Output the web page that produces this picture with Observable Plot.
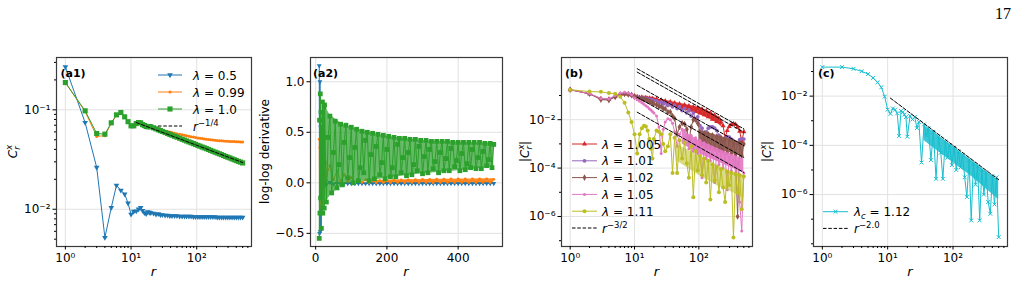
<!DOCTYPE html>
<html><head><meta charset="utf-8">
<script src="https://cdn.jsdelivr.net/npm/d3@7"></script>
<script src="https://cdn.jsdelivr.net/npm/@observablehq/plot@0.6"></script>
<style>
body{margin:0;background:#fff;}
#page{position:relative;width:1020px;height:307px;overflow:hidden;font-family:"DejaVu Sans",sans-serif;background:#fff;}
#page svg{position:absolute;left:0;top:0;}
</style></head><body><div id="page"></div>
<script>
// ---------------- DATA ----------------
const rGrid = [1,2,3,4,5,6,7,8,9,10,11,12,13,14,15,16,17,18,19,20,22,24,26,28,30,33,36,39,42,46,50,55,60,65,70,76,82,89,96,104,112,121,130,140,151,163,176,190,205,221,238,256,276,297,320,345,372,400,431,464,500];

// (a1) C_r^x
const a1Blue = [0.271,0.0744,0.0263,0.00519,0.0104,0.0174,0.0155,0.0142,0.0115,0.0089,
 0.0095,0.0096,0.0100,0.0104,0.0097,0.0092,0.0090,0.0094,0.0093,0.0092,
 0.0091,0.0089,0.0090,0.0088,0.0088,0.0087,0.0087,0.0086,0.0086,0.0086,
 0.0086,0.0085,0.0085,0.0085,0.0085,0.0085,0.0085,0.0084,0.0084,0.0084,
 0.0084,0.0084,0.0084,0.0084,0.0084,0.0084,0.0084,0.0084,0.0083,0.0083,
 0.0083,0.0083,0.0083,0.0083,0.0083,0.0083,0.0083,0.0083,0.0083,0.0083,0.0083];
const a1Orange = [0.188,0.096,0.054,0.055,0.073,0.088,0.093,0.084,0.076,0.069,
 0.068,0.072,0.074,0.073,0.070,0.069,0.068,0.067,0.068,0.067,
 0.0662,0.0650,0.0641,0.0632,0.0624,0.0614,0.0605,0.0597,0.0590,0.0582,
 0.0575,0.0567,0.0560,0.0554,0.0548,0.0542,0.0537,0.0532,0.0527,0.0522,
 0.0518,0.0514,0.0510,0.0507,0.0503,0.0500,0.0497,0.0495,0.0492,0.0490,
 0.0488,0.0486,0.0484,0.0483,0.0481,0.0480,0.0479,0.0478,0.0477,0.0476,0.0475];
const a1Green = [0.188,0.0977,0.0578,0.0569,0.074,0.089,0.094,0.085,0.076,0.069,
 0.069,0.0728,0.0745,0.074,0.071,0.0695,0.068,0.0675,0.068,0.0675,
 0.0659,0.0644,0.0630,0.0618,0.0606,0.0591,0.0578,0.0566,0.0555,0.0542,
 0.0531,0.0518,0.0506,0.0496,0.0486,0.0476,0.0467,0.0457,0.0448,0.0439,
 0.0431,0.0422,0.0415,0.0407,0.0399,0.0391,0.0383,0.0375,0.0368,0.0361,
 0.0354,0.0347,0.0340,0.0334,0.0328,0.0321,0.0315,0.0309,0.0303,0.0298,0.0292];
const a1DashR = [12, 500];
const a1DashV = [0.0745, 0.0295];
const a1Lambdas = ["0.5", "0.99", "1.0"];

// (a2) log-log derivative
const a2GreenR = [10,11,12,13,14,15,16,17,18,19,20,21,22,23,24,
 25,30,35,40,45,50,55,60,65,70,
 75,80,85,90,95,100,105,110,115,120,
 125,130,135,140,145,150,155,160,165,170,
 175,180,185,190,195,200,205,210,215,220,
 225,230,235,240,245,250,255,260,265,270,
 275,280,285,290,295,300,305,310,315,320,
 325,330,335,340,345,350,355,360,365,370,
 375,380,385,390,395,400,405,410,415,420,
 425,430,435,440,445,450,455,460,465,470,
 475,480,485,490,495,500];
const a2Green = [-0.55,0.62,-0.30,0.88,-0.15,0.70,-0.45,0.55,0.10,0.80,-0.30,0.45,0.20,0.75,-0.25,
 0.77,-0.19,0.45,0.66,-0.10,0.30,0.61,-0.05,0.18,0.58,
 -0.02,0.40,0.57,0.05,0.25,0.55,0.00,0.35,0.53,0.02,
 0.15,0.51,0.10,0.42,0.50,0.02,0.28,0.49,0.04,0.36,
 0.48,0.08,0.20,0.47,0.04,0.33,0.46,0.06,0.15,0.45,
 0.06,0.38,0.44,0.10,0.25,0.44,0.07,0.30,0.43,0.08,
 0.18,0.43,0.12,0.36,0.42,0.09,0.26,0.42,0.10,0.33,
 0.41,0.14,0.21,0.41,0.10,0.30,0.41,0.12,0.24,0.41,
 0.12,0.34,0.40,0.16,0.22,0.40,0.12,0.29,0.40,0.13,
 0.19,0.40,0.15,0.33,0.40,0.14,0.25,0.40,0.14,0.31,
 0.39,0.17,0.23,0.39,0.15,0.38];
// envelope of the densely oscillating green points (every integer r in the original)
const a2GreenEnvR = [20, 25, 40, 75, 100, 150, 200, 250, 300, 400, 500];
const a2GreenEnvHi = [0.80, 0.77, 0.67, 0.58, 0.55, 0.50, 0.46, 0.44, 0.42, 0.405, 0.395];
const a2GreenEnvLo = [-0.28, -0.22, -0.13, -0.02, 0.00, 0.02, 0.045, 0.07, 0.09, 0.12, 0.155];
const a2BOR = [10,11,12,13,14,15,16,17,18,19,20,21,22,23,24,26,28,30,
 40,50,60,70,80,90,100,110,120,130,140,150,160,170,180,190,200,210,220,230,240,250,
 260,270,280,290,300,310,320,330,340,350,360,370,380,390,400,410,420,430,440,450,460,470,480,490,500];
const a2Blue = [1.16,-0.50,1.00,-0.48,0.55,-0.20,0.35,-0.10,0.20,-0.05,0.12,0.00,0.06,-0.03,0.04,
 -0.02,0.02,-0.015,
 0.004,-0.010,-0.004,-0.008,-0.005,-0.007,-0.006,-0.007,-0.006,-0.006,
 -0.007,-0.006,-0.006,-0.007,-0.006,-0.006,-0.006,-0.007,-0.006,-0.006,
 -0.006,-0.006,-0.007,-0.006,-0.006,-0.006,-0.006,-0.006,-0.007,-0.006,
 -0.006,-0.006,-0.006,-0.006,-0.006,-0.006,-0.006,-0.006,-0.006,-0.006,
 -0.006,-0.006,-0.006,-0.006,-0.006,-0.006,-0.006];
const a2Orange = [0.43,-0.30,0.35,-0.22,0.48,-0.12,0.30,-0.25,0.27,0.00,0.25,-0.06,0.21,0.02,0.22,
 0.04,0.20,0.07,
 0.17,0.03,0.12,0.02,0.08,0.01,0.05,0.00,0.035,0.004,
 0.028,0.002,0.024,0.001,0.022,0.002,0.024,0.001,0.026,0.002,
 0.028,0.001,0.030,0.002,0.032,0.001,0.034,0.002,0.035,0.001,
 0.036,0.002,0.037,0.002,0.038,0.002,0.038,0.003,0.039,0.003,
 0.039,0.003,0.040,0.003,0.040,0.003,0.035];
const a2OrangeEnvR = [150, 250, 350, 500];
const a2OrangeEnvHi = [0.022, 0.03, 0.036, 0.040];
const a2OrangeEnvLo = [0.0, 0.0, 0.0, 0.0];

// (b) |C_r^x|, stored as log10 values
const bLogRed = [-0.76,-0.93,-1.13,-1.15,-1.04,-0.96,-0.93,-0.94,-0.97,-1.02,
 -1.05,-1.08,-1.07,-1.10,-1.09,-1.12,-1.11,-1.14,-1.13,-1.16,
 -1.15,-1.25,-1.19,-1.30,-1.23,-1.35,-1.27,-1.40,-1.31,-1.45,
 -1.35,-1.50,-1.39,-1.55,-1.43,-1.60,-1.47,-1.65,-1.51,-1.72,
 -1.57,-1.80,-1.64,-1.88,-1.72,-1.98,-1.82,-2.08,-1.95,-2.10,
 -2.25,-2.75,-2.45,-2.28,-2.20,-2.17,-2.20,-2.30,-2.48,-2.90,-2.50];
const bLogPurple = [-0.76,-0.93,-1.14,-1.16,-1.05,-0.96,-0.93,-0.95,-0.98,-1.03,
 -1.06,-1.09,-1.09,-1.12,-1.12,-1.15,-1.15,-1.18,-1.18,-1.21,
 -1.22,-1.30,-1.26,-1.35,-1.30,-1.41,-1.35,-1.47,-1.40,-1.54,
 -1.46,-1.62,-1.53,-1.72,-1.61,-1.85,-1.72,-2.00,-1.88,-2.25,
 -2.35,-2.90,-2.50,-2.35,-2.30,-2.30,-2.35,-2.45,-2.65,-3.20,
 -2.90,-2.75,-2.70,-2.72,-2.80,-3.00,-3.40,-3.00,-2.82,-2.78,-2.80];
const bLogBrown = [-0.76,-0.93,-1.17,-1.19,-1.06,-0.97,-0.94,-0.96,-0.99,-1.05,
 -1.08,-1.12,-1.13,-1.17,-1.18,-1.22,-1.24,-1.28,-1.30,-1.34,
 -1.38,-1.45,-1.45,-1.55,-1.55,-1.68,-1.68,-1.85,-1.95,-2.60,
 -2.30,-2.15,-2.18,-2.40,-2.90,-2.30,-2.00,-2.00,-2.15,-2.50,
 -3.00,-2.55,-3.10,-2.60,-3.15,-2.65,-3.20,-2.70,-3.25,-2.75,
 -3.30,-2.80,-3.35,-2.85,-3.40,-2.90,-3.45,-6.00,-2.95,-3.50,-3.00];
const bLogPink = [-0.76,-0.92,-1.12,-1.14,-1.00,-0.90,-0.87,-0.90,-0.97,-1.10,
 -1.18,-1.24,-1.30,-1.36,-1.42,-1.48,-1.55,-1.60,-1.66,-1.72,
 -1.85,-2.30,-3.40,-2.40,-2.10,-1.96,-2.00,-2.15,-2.50,-3.10,
 -2.60,-2.40,-2.45,-2.70,-3.20,-2.65,-3.30,-2.75,-3.40,-2.85,
 -4.40,-2.95,-3.60,-3.05,-3.70,-3.15,-4.60,-3.25,-3.85,-3.35,
 -4.00,-3.45,-4.90,-3.55,-4.10,-3.65,-4.20,-3.75,-5.40,-6.60,-4.20];
const bLogOlive = [-0.76,-0.84,-0.85,-0.90,-0.93,-1.05,-1.30,-1.70,-2.10,-2.60,
 -3.40,-2.60,-2.35,-2.25,-2.28,-2.45,-2.80,-3.20,-3.60,-2.80,
 -2.45,-2.50,-2.60,-3.00,-3.30,-3.10,-2.60,-4.20,-2.75,-4.20,
 -2.85,-3.60,-2.95,-3.80,-4.40,-3.10,-5.20,-3.30,-4.10,-3.50,
 -4.30,-3.60,-4.60,-3.70,-5.30,-3.85,-4.50,-3.95,-5.00,-4.05,
 -4.80,-5.40,-4.15,-4.70,-4.20,-6.87,-4.25,-5.00,-4.30,-5.70,-4.35];
// envelopes (log10) of the dense even/odd bands in (b)
const bRedEnvR = [13, 20, 30, 50, 100, 150, 200, 228];
const bRedEnvHi = [-1.07, -1.12, -1.20, -1.32, -1.49, -1.68, -1.88, -2.00];
const bRedEnvLo = [-1.10, -1.20, -1.33, -1.52, -1.78, -1.98, -2.18, -2.30];
const bBrownEnvR = [100, 150, 200, 300, 500];
const bBrownEnvHi = [-2.42, -2.56, -2.66, -2.80, -2.95];
const bBrownEnvLo = [-2.95, -3.12, -3.22, -3.36, -3.55];
const bPinkEnvR = [55, 100, 200, 300, 500];
const bPinkEnvHi = [-2.45, -2.85, -3.20, -3.40, -3.62];
const bPinkEnvLo = [-3.00, -3.40, -3.75, -3.95, -4.20];
const bOliveEnvR = [45, 100, 200, 300, 500];
const bOliveEnvHi = [-3.00, -3.50, -3.90, -4.10, -4.30];
const bOliveEnvLo = [-3.70, -4.30, -4.75, -4.95, -5.25];
const bLambdas = ["1.005", "1.01", "1.02", "1.05", "1.11"];
const bDashR = [11, 500];
const bDashLogStart = [0.107, -0.033, -0.58, -1.07, -1.69];
const bDashLogEnd = [-2.38, -2.52, -3.07, -3.56, -4.18];

// (c) |C_r^x| at lambda_c, log10 values
const cLogCyan = [-0.82,-0.82,-0.89,-0.99,-1.10,-1.26,-1.44,-1.64,-2.02,-2.55,
 -2.72,-2.50,-2.55,-2.70,-3.62,-2.60,-2.65,-2.75,-2.85,-3.65,
 -2.80,-2.95,-2.85,-3.30,-3.05,-4.70,-3.15,-3.60,-3.30,-4.60,
 -3.45,-5.36,-3.65,-4.30,-5.36,-3.85,-4.50,-4.00,-4.80,-4.10,
 -5.00,-4.25,-4.90,-4.40,-5.30,-6.10,-4.60,-7.05,-4.75,-5.60,
 -4.85,-7.05,-5.00,-6.00,-5.10,-6.30,-6.78,-5.25,-6.40,-5.30,-7.73];
const cCyanEnvR = [36, 50, 100, 200, 300, 500];
const cCyanEnvHi = [-3.20, -3.45, -4.05, -4.65, -5.00, -5.45];
const cCyanEnvLo = [-3.80, -4.10, -4.70, -5.30, -5.70, -6.20];
const cDashR = [11, 500];
const cDashLog = [-2.08, -5.40];

// ticks
const logXTicks = [1, 10, 100];
const logXLabels = ["10\u2070", "10\u00b9", "10\u00b2"];
const logXMinor = [2,3,4,5,6,7,8,9,20,30,40,50,60,70,80,90,200,300,400,500,600];
const a1YTicks = [0.01, 0.1];
const a1YLabels = ["10\u207b\u00b2", "10\u207b\u00b9"];
const a1YMinor = [0.005,0.006,0.007,0.008,0.009,0.02,0.03,0.04,0.05,0.06,0.07,0.08,0.09,0.2,0.3];
const a2XTicks = [0, 200, 400];
const a2XLabels = ["0", "200", "400"];
const a2YTicks = [-0.5, 0, 0.5, 1];
const a2YLabels = ["\u22120.5", "0.0", "0.5", "1.0"];
const bcYTicks = [1e-6, 1e-4, 1e-2];
const bcYLabels = ["10\u207b\u2076", "10\u207b\u2074", "10\u207b\u00b2"];
const bYMinor = [1e-7, 1e-5, 1e-3, 1e-1];
const cYMinor = [1e-8, 1e-7, 1e-5, 1e-3, 1e-1];

// colours
const C = {blue:"#1f77b4", orange:"#ff7f0e", green:"#2ca02c", red:"#d62728", purple:"#9467bd",
  brown:"#8c564b", pink:"#e377c2", olive:"#bcbd22", cyan:"#17becf"};

// ---------------- HELPERS ----------------
const W = 1020, H = 307, TOP = 57, BOTTOM = 246;
const FONT = "DejaVu Sans";
const page = document.getElementById("page");
const tbl = (xs, ys) => xs.map((x, i) => ({x, y: ys[i]}));
const tblLog = (xs, ls) => xs.map((x, i) => ({x, y: Math.pow(10, ls[i])}));
const env = (xs, lo, hi, log) => xs.map((x, i) => ({x, lo: log ? Math.pow(10, lo[i]) : lo[i], hi: log ? Math.pow(10, hi[i]) : hi[i]}));
const band = (data, color, op) => Plot.areaY(data, {x: "x", y1: "lo", y2: "hi", fill: color, fillOpacity: op, curve: "linear", clip: true});
const fmt = (ticks, labels) => { const m = new Map(ticks.map((t, i) => [t, labels[i]])); return d => m.get(d) ?? ""; };
const GRID = "#e2e2e2";

function axes(xT, xL, xMin, yT, yL, yMin) {
  const m = [
    Plot.axisX({ticks: xT, tickFormat: fmt(xT, xL), tickSize: 3.5, tickPadding: 3, fontSize: 12, label: null}),
    Plot.axisY({ticks: yT, tickFormat: fmt(yT, yL), tickSize: 3.5, tickPadding: 2.5, fontSize: 12, label: null})
  ];
  if (xMin) m.push(Plot.axisX({ticks: xMin, tickFormat: () => "", tickSize: 2, label: null}));
  if (yMin) m.push(Plot.axisY({ticks: yMin, tickFormat: () => "", tickSize: 2, label: null}));
  return m;
}
function grids(xT, yT) {
  return [Plot.gridX({ticks: xT, stroke: GRID, strokeOpacity: 1, strokeWidth: 1}),
          Plot.gridY({ticks: yT, stroke: GRID, strokeOpacity: 1, strokeWidth: 1})];
}
function series(data, color, sym, r, extra = {}) {
  const dotOpts = {x: "x", y: "y", symbol: sym, r, clip: true, ...extra};
  if (sym === "times") { dotOpts.stroke = color; dotOpts.strokeWidth = 1; }
  else { dotOpts.fill = color; dotOpts.stroke = "none"; }
  return [Plot.line(data, {x: "x", y: "y", stroke: color, strokeWidth: 1, clip: true}),
          Plot.dot(data, dotOpts)];
}
function panel(left, right, x, y, marks) {
  const svg = Plot.plot({
    width: W, height: H, marginLeft: left, marginRight: W - right, marginTop: TOP, marginBottom: H - BOTTOM,
    style: {background: "transparent", fontFamily: FONT, fontSize: "12px", color: "#000", overflow: "visible"},
    x, y, marks
  });
  page.appendChild(svg);
  return d3.select(svg);
}
const frame = () => Plot.frame({stroke: "#3a3a3a", strokeWidth: 1.2});

function addText(svg, x, y, parts, opts = {}) {
  const t = svg.append("text").attr("x", x).attr("y", y)
    .attr("font-family", opts.family || FONT).attr("font-size", opts.size || 12)
    .attr("text-anchor", opts.anchor || "start").attr("fill", "#000");
  if (opts.weight) t.attr("font-weight", opts.weight);
  if (opts.rotate) t.attr("transform", `rotate(${opts.rotate},${x},${y})`);
  parts.forEach(p => {
    const s = t.append("tspan").text(p.t);
    if (p.i) s.attr("font-style", "italic");
    if (p.s) s.attr("font-size", p.s);
    if (p.dy) s.attr("dy", p.dy);
    if (p.dx) s.attr("dx", p.dx);
  });
  return t;
}
function legend(svg, x0, x1, tx, rows) {
  rows.forEach(row => {
    const y = row.y;
    const l = svg.append("line").attr("x1", x0).attr("x2", x1).attr("y1", y).attr("y2", y)
      .attr("stroke", row.color).attr("stroke-width", 1);
    if (row.dash) l.attr("stroke-dasharray", "3.5,1.8");
    if (row.symbol) {
      const p = svg.append("path").attr("d", d3.symbol(row.symbol, Math.PI * row.r * row.r)())
        .attr("transform", `translate(${(x0 + x1) / 2},${y}) rotate(${row.rot || 0})`);
      if (row.symbol === d3.symbolTimes) p.attr("fill", "none").attr("stroke", row.color).attr("stroke-width", 1);
      else p.attr("fill", row.color);
    }
    addText(svg, tx, y + 4.5, row.parts);
  });
}
const lam = v => [{t: "\u03bb", i: 1}, {t: " = " + v}];
const powLabel = e => [{t: "r", i: 1}, {t: e, s: 8.5, dy: -5}];
const Clabel = abs => {
  const p = [];
  if (abs) p.push({t: "|"});
  p.push({t: "C", i: 1}, {t: "x", i: 1, s: 8.5, dy: -5}, {t: "r", i: 1, s: 8.5, dy: 8, dx: -5}, {t: abs ? "|" : "", dy: -3, dx: 1});
  return p;
};

// ---------------- PANEL (a1) ----------------
{
  const svg = panel(56, 251,
    {type: "log", domain: [0.733, 682]},
    {type: "log", domain: [0.00422, 0.336]},
    [
      ...grids(logXTicks, a1YTicks),
      ...series(tbl(rGrid, a1Blue), C.blue, "triangle", 2.1, {rotate: 180}),
      ...series(tbl(rGrid, a1Orange), C.orange, "circle", 1.5),
      ...series(tbl(rGrid, a1Green), C.green, "square", 2.9),
      Plot.line(tbl(a1DashR, a1DashV), {x: "x", y: "y", stroke: "#000", strokeWidth: 1, strokeDasharray: "3.5,1.8", clip: true}),
      frame(),
      ...axes(logXTicks, logXLabels, logXMinor, a1YTicks, a1YLabels, a1YMinor)
    ]);
  legend(svg, 158, 182, 193, [
    {y: 75, color: C.blue, symbol: d3.symbolTriangle, r: 2.1, rot: 180, parts: lam(a1Lambdas[0])},
    {y: 92, color: C.orange, symbol: d3.symbolCircle, r: 1.5, parts: lam(a1Lambdas[1])},
    {y: 109, color: C.green, symbol: d3.symbolSquare, r: 2.9, parts: lam(a1Lambdas[2])},
    {y: 126, color: "#000", dash: true, parts: powLabel("\u22121/4")}
  ]);
  addText(svg, 60.5, 77, [{t: "(a1)"}], {weight: "bold", size: 11});
  addText(svg, 153.5, 276, [{t: "r", i: 1}], {anchor: "middle", size: 13});
  addText(svg, 17, 151.5, Clabel(false), {anchor: "middle", rotate: -90, size: 12});
}

// ---------------- PANEL (a2) ----------------
{
  const svg = panel(310, 502,
    {type: "linear", domain: [-14.5, 524.5]},
    {type: "linear", domain: [-0.63, 1.24]},
    [
      ...grids(a2XTicks, a2YTicks),
      ...series(tbl(a2BOR, a2Blue), C.blue, "triangle", 1.8, {rotate: 180}),
      band(env(a2OrangeEnvR, a2OrangeEnvLo, a2OrangeEnvHi, false), C.orange, 0.9),
      ...series(tbl(a2BOR, a2Orange), C.orange, "circle", 1.4),
      band(env(a2GreenEnvR, a2GreenEnvLo, a2GreenEnvHi, false), C.green, 0.72),
      ...series(tbl(a2GreenR, a2Green), C.green, "square", 2.7),
      frame(),
      ...axes(a2XTicks, a2XLabels, null, a2YTicks, a2YLabels, null)
    ]);
  addText(svg, 313, 77, [{t: "(a2)"}], {weight: "bold", size: 11});
  addText(svg, 406, 276, [{t: "r", i: 1}], {anchor: "middle", size: 13});
  addText(svg, 268.5, 151.5, [{t: "log-log derivative"}], {anchor: "middle", rotate: -90, size: 12});
}

// ---------------- PANEL (b) ----------------
{
  const dash = bDashLogStart.flatMap((s, k) => [
    {x: bDashR[0], y: Math.pow(10, s), k}, {x: bDashR[1], y: Math.pow(10, bDashLogEnd[k]), k}]);
  const svg = panel(561, 752,
    {type: "log", domain: [0.733, 682]},
    {type: "log", domain: [Math.pow(10, -7.24), Math.pow(10, 0.57)]},
    [
      ...grids(logXTicks, bcYTicks),
      band(env(bRedEnvR, bRedEnvLo, bRedEnvHi, true), C.red, 0.9),
      ...series(tblLog(rGrid, bLogRed), C.red, "triangle", 1.9),
      ...series(tblLog(rGrid, bLogPurple), C.purple, "circle", 1.9),
      band(env(bBrownEnvR, bBrownEnvLo, bBrownEnvHi, true), C.brown, 0.9),
      ...series(tblLog(rGrid, bLogBrown), C.brown, "diamond", 2.0),
      band(env(bPinkEnvR, bPinkEnvLo, bPinkEnvHi, true), C.pink, 0.9),
      ...series(tblLog(rGrid, bLogPink), C.pink, "circle", 1.5),
      band(env(bOliveEnvR, bOliveEnvLo, bOliveEnvHi, true), C.olive, 0.55),
      ...series(tblLog(rGrid, bLogOlive), C.olive, "circle", 2.0),
      Plot.line(dash, {x: "x", y: "y", z: "k", stroke: "#000", strokeWidth: 1, strokeDasharray: "3.5,1.8", clip: true}),
      frame(),
      ...axes(logXTicks, logXLabels, logXMinor, bcYTicks, bcYLabels, bYMinor)
    ]);
  const cols = [C.red, C.purple, C.brown, C.pink, C.olive];
  const syms = [d3.symbolTriangle, d3.symbolCircle, d3.symbolDiamond, d3.symbolCircle, d3.symbolCircle];
  const rs = [1.9, 1.9, 2.0, 1.5, 2.0];
  const ys = [144, 160.8, 177.6, 194.4, 211.2, 228];
  const rows = bLambdas.map((v, i) => ({y: ys[i], color: cols[i], symbol: syms[i], r: rs[i], parts: lam(v)}));
  rows.push({y: ys[5], color: "#000", dash: true, parts: powLabel("\u22123/2")});
  legend(svg, 572, 597, 602, rows);
  addText(svg, 565, 77, [{t: "(b)"}], {weight: "bold", size: 11});
  addText(svg, 656.5, 276, [{t: "r", i: 1}], {anchor: "middle", size: 13});
  addText(svg, 529, 151.5, Clabel(true), {anchor: "middle", rotate: -90, size: 12});
}

// ---------------- PANEL (c) ----------------
{
  const svg = panel(813, 1007,
    {type: "log", domain: [0.733, 682]},
    {type: "log", domain: [Math.pow(10, -8.11), Math.pow(10, -0.43)]},
    [
      ...grids(logXTicks, bcYTicks),
      band(env(cCyanEnvR, cCyanEnvLo, cCyanEnvHi, true), C.cyan, 0.85),
      ...series(tblLog(rGrid, cLogCyan), C.cyan, "times", 1.9),
      Plot.line(tblLog(cDashR, cDashLog), {x: "x", y: "y", stroke: "#000", strokeWidth: 1, strokeDasharray: "3.5,1.8", clip: true}),
      frame(),
      ...axes(logXTicks, logXLabels, logXMinor, bcYTicks, bcYLabels, cYMinor)
    ]);
  legend(svg, 823, 848, 854, [
    {y: 211.7, color: C.cyan, symbol: d3.symbolTimes, r: 1.9,
     parts: [{t: "\u03bb", i: 1}, {t: "c", i: 1, s: 8.5, dy: 3}, {t: " = 1.12", dy: -3}]},
    {y: 228.4, color: "#000", dash: true, parts: powLabel("\u22122.0")}
  ]);
  addText(svg, 818, 77, [{t: "(c)"}], {weight: "bold", size: 11});
  addText(svg, 910, 276, [{t: "r", i: 1}], {anchor: "middle", size: 13});
  addText(svg, 771, 151.5, Clabel(true), {anchor: "middle", rotate: -90, size: 12});
  addText(svg, 1011, 19, [{t: "17"}], {anchor: "end", size: 16, family: "Liberation Serif"});
}
</script></body></html>
